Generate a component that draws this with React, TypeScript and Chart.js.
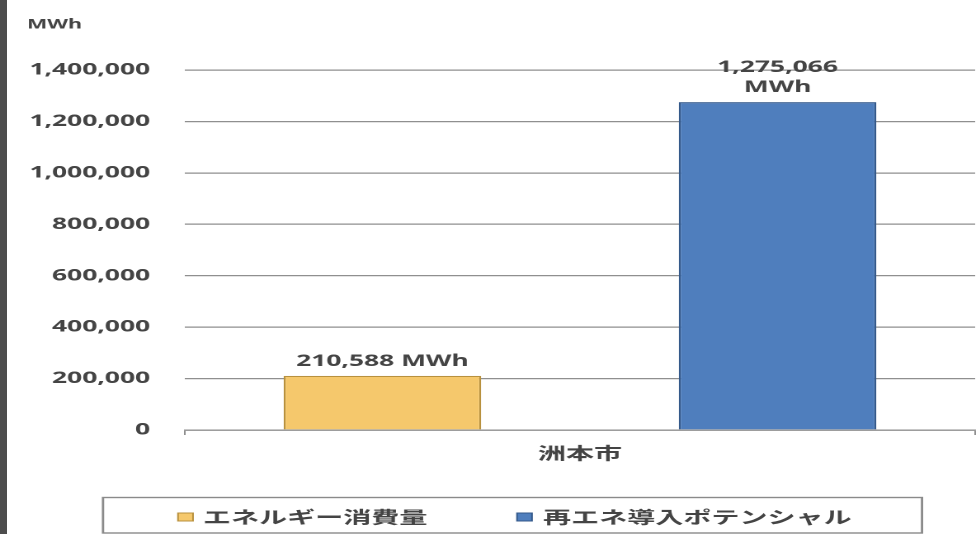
import React, { useEffect, useRef } from 'react';
import { Chart, registerables } from 'chart.js';

Chart.register(...registerables);

// ---- data ----
const categories = ['洲本市'];
const seriesNames = ['エネルギー消費量', '再エネ導入ポテンシャル'];
const energyConsumption = [210588];
const renewablePotential = [1275066];
const yTickValues = [0, 200000, 400000, 600000, 800000, 1000000, 1200000, 1400000];
const unitLabel = 'MWh';
// value labels that break onto two lines (number / unit)
const wrapValueLabel = [false, true];

// ---- look ----
const STRETCH = 1.65; // wide lettering: the canvas is drawn narrow and widened
const PAGE_W = 978;
const PAGE_H = 534;
const CANVAS_W = Math.round(PAGE_W / STRETCH);
const sx = (x: number) => x / STRETCH;

const TEXT = '#444444';
const GRID = '#8f8f8f';
const FILL = ['#f5c86c', '#4f7ebd'];
const EDGE = ['#b8913e', '#34598a'];
const LATIN = "'Noto Sans', 'DejaVu Sans', sans-serif";
const CJK = "'Noto Sans CJK JP', 'Noto Sans', sans-serif";

const fmt = (v: number) => v.toLocaleString('en-US');

const unitPlugin = {
  id: 'unitLabel',
  afterDraw(chart: any) {
    const ctx = chart.ctx;
    ctx.save();
    ctx.font = `bold 13px ${LATIN}`;
    ctx.fillStyle = TEXT;
    ctx.textAlign = 'left';
    ctx.textBaseline = 'middle';
    ctx.fillText(unitLabel, sx(27), 25);
    ctx.restore();
  },
};

const valueLabelPlugin = {
  id: 'valueLabels',
  afterDatasetsDraw(chart: any) {
    const ctx = chart.ctx;
    ctx.save();
    ctx.font = `bold 16px ${LATIN}`;
    ctx.fillStyle = TEXT;
    ctx.textAlign = 'center';
    ctx.textBaseline = 'middle';
    chart.data.datasets.forEach((ds: any, di: number) => {
      const meta = chart.getDatasetMeta(di);
      meta.data.forEach((bar: any, i: number) => {
        const v = ds.data[i] as number;
        const lines = wrapValueLabel[di] ? [fmt(v), unitLabel] : [`${fmt(v)} ${unitLabel}`];
        const lh = 20;
        const lastY = bar.y - 14.5;
        lines.forEach((t, li) => {
          ctx.fillText(t, bar.x, lastY - (lines.length - 1 - li) * lh);
        });
      });
    });
    ctx.restore();
  },
};

const legendBoxPlugin = {
  id: 'legendBox',
  afterDraw(chart: any) {
    const ctx = chart.ctx;
    ctx.save();
    ctx.strokeStyle = '#8a8a8a';
    ctx.lineWidth = 1.4;
    const left = sx(103);
    const right = sx(922);
    ctx.strokeRect(left, 497.5, right - left, 35.5);

    const items = [
      { box: 178, text: 203 },
      { box: 517, text: 543 },
    ];
    ctx.font = `bold 17px ${CJK}`;
    ctx.textAlign = 'left';
    ctx.textBaseline = 'middle';
    chart.data.datasets.forEach((ds: any, i: number) => {
      const it = items[i];
      ctx.fillStyle = ds.backgroundColor;
      ctx.fillRect(sx(it.box), 513, sx(15), 8);
      ctx.lineWidth = 1;
      ctx.strokeStyle = ds.borderColor;
      ctx.strokeRect(sx(it.box), 513, sx(15), 8);
      ctx.fillStyle = TEXT;
      ctx.fillText(ds.label, sx(it.text), 517);
    });
    ctx.restore();
  },
};

export default function App() {
  const canvasRef = useRef<HTMLCanvasElement | null>(null);

  useEffect(() => {
    document.body.style.margin = '0';
    const canvas = canvasRef.current;
    if (!canvas) return;
    const chart = new Chart(canvas, {
      type: 'bar',
      data: {
        labels: categories,
        datasets: [
          {
            label: seriesNames[0],
            data: energyConsumption,
            backgroundColor: FILL[0],
            borderColor: EDGE[0],
            borderWidth: 1.2,
          },
          {
            label: seriesNames[1],
            data: renewablePotential,
            backgroundColor: FILL[1],
            borderColor: EDGE[1],
            borderWidth: 1.2,
          },
        ],
      },
      options: {
        responsive: false,
        animation: false,
        devicePixelRatio: 2,
        barPercentage: 0.5,
        categoryPercentage: 1.0,
        layout: { padding: { top: 70, left: 0, right: 2, bottom: 64 } },
        plugins: {
          legend: { display: false },
          tooltip: { enabled: false },
          title: { display: false },
        },
        scales: {
          x: {
            offset: true,
            grid: {
              offset: true,
              drawOnChartArea: false,
              drawTicks: true,
              tickLength: 5,
              color: GRID,
            },
            border: { display: true, color: GRID, width: 1.2 },
            ticks: {
              padding: 8,
              color: TEXT,
              font: { family: CJK, size: 17, weight: 'bold' },
            },
            afterFit(scale: any) {
              scale.height = 40;
            },
          },
          y: {
            min: 0,
            max: yTickValues[yTickValues.length - 1],
            afterBuildTicks(scale: any) {
              scale.ticks = yTickValues.map((value) => ({ value }));
            },
            grid: { color: GRID, lineWidth: 1.2, drawTicks: false },
            border: { display: false },
            ticks: {
              padding: 21,
              color: TEXT,
              font: { family: LATIN, size: 16, weight: 'bold' },
              callback: (v: any) => fmt(Number(v)),
            },
            afterFit(scale: any) {
              scale.width = 112;
            },
          },
        },
      },
      plugins: [unitPlugin, valueLabelPlugin, legendBoxPlugin],
    } as any);
    return () => chart.destroy();
  }, []);

  return (
    <div
      style={{
        position: 'relative',
        width: PAGE_W,
        height: PAGE_H,
        overflow: 'hidden',
        background: '#ffffff',
      }}
    >
      <div
        style={{
          position: 'absolute',
          left: 0,
          top: 0,
          width: CANVAS_W,
          height: PAGE_H,
          transform: `scaleX(${STRETCH})`,
          transformOrigin: 'left top',
        }}
      >
        <canvas
          ref={canvasRef}
          width={CANVAS_W}
          height={PAGE_H}
          style={{ width: CANVAS_W, height: PAGE_H, display: 'block' }}
        />
      </div>
      <div
        style={{
          position: 'absolute',
          left: 0,
          top: 0,
          width: 7,
          height: PAGE_H,
          background: '#4d4d4d',
        }}
      />
    </div>
  );
}
